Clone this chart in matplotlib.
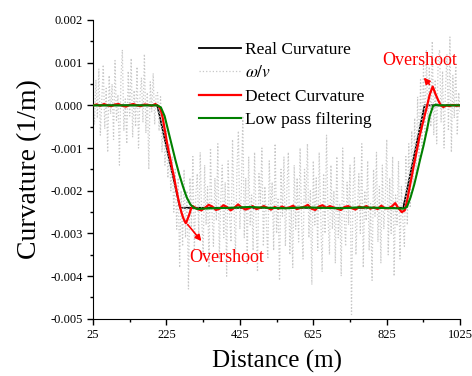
#!/usr/bin/env python

import numpy as np
import matplotlib.pyplot as plt
from matplotlib.ticker import FormatStrFormatter, MultipleLocator

plt.rcParams["font.family"] = ["Liberation Serif", "DejaVu Serif"]
plt.rcParams["mathtext.fontset"] = "stix"
plt.rcParams["axes.unicode_minus"] = False

# Distance grid of the noisy omega/v measurement (m)
distance = np.arange(25, 1026, 4)

# omega/v, in 1e-5 1/m
omega_v = [
	# straight part
	20, -45, 60, -30, 85, -70, 10, 95, -55, 40, -110, 70, -20, 50, -80, 105, -35, 25, -140, 60,
	130, -60, 15, -90, 80, -25, 110, -75, 35, -50, 90, -100, 20, 65, -40, 120, -65, 30, -150, 55,
	-15, 75, -45, 25,
	# entry transition
	30, -60, 20, -110, -20, -140, -60, -170, -90, -200, -120, -250, -150, -290, -170, -380, -200, -330,
	# curve
	-150, -310, -200, -430, -170, -290, -120, -340, -210, -160,
	-300, -110, -260, -350, -140, -280, -190, -380, -100, -250,
	-330, -170, -270, -90, -360, -220, -140, -310, -180, -400,
	-130, -260, -320, -80, -240, -350, -150, -60, -290, -200,
	-25, -310, -170, -370, -120, -280, -210, -340, -110, -260,
	-390, -160, -230, -100, -330, -190, -270, -360, -130, -250,
	-180, -340, -90, -300, -220, -410, -150, -260, -120, -330,
	-200, -110, -350, -240, -380, -140, -290, -170, -320, -100,
	-270, -360, -150, -230, -90, -310, -200, -420, -130, -280,
	-170, -340, -110, -250, -390, -160, -300, -70, -260, -350,
	-140, -290, -200, -370, -120, -310, -230, -400, -100, -260,
	-330, -180, -280, -140, -490, -210, -120, -350, -250, -160,
	-300, -90, -380, -200, -270, -130, -340, -230, -410, -150,
	-260, -110, -320, -190, -370, -140, -290, -220, -80, -350,
	-170, -300, -120, -400, -210, -280, -130, -360, -190, -270,
	# exit transition
	-330, -120, -280, -90, -240, -60, -200, -30, -170, 20, -130, 60, -110, 100, -70, 130, -60,
	# straight part
	90, -50, 150, -70, 60, -90, 110, 130, -40, 80, -100, 40, 120, -60, 160, -110, 70, -30, 100, -70,
	30, -20,
]

# Real curvature (1e-5 1/m)
real_x = [25, 200, 262, 870, 928, 1025]
real_y = [0, 0, -240, -240, 0, 0]

# Detected curvature (1e-5 1/m)
detect_x = [25, 35, 45, 55, 65, 75, 85, 95, 105, 115, 125, 135, 145, 155, 165, 175, 185, 195,
	200, 205, 210, 215, 220, 225, 230, 235, 240, 245, 250, 255, 260, 265, 270, 275, 278, 282, 287, 292, 297,
	300, 310, 320, 330, 340, 350, 360, 370, 380, 390, 400, 410, 420, 430, 440, 450, 460, 470, 480, 490,
	500, 510, 520, 530, 540, 550, 560, 570, 580, 590, 600, 610, 620, 630, 640, 650, 660, 670, 680, 690,
	700, 710, 720, 730, 740, 750, 760, 770, 780, 790, 800, 810, 820, 830, 840, 848, 856, 866, 874,
	880, 890, 900, 907, 915, 925, 934, 942, 950, 957, 965, 972, 979, 988, 995, 1005, 1015, 1025]
detect_y = [0, 2, -1, 3, 0, -2, 2, 3, -1, -3, 1, 3, 0, -2, 2, 1, -1, 3,
	0, -3, -12, -30, -55, -80, -103, -123, -145, -165, -188, -210, -230, -248, -262, -272, -276, -268, -256, -242, -236,
	-238, -243, -246, -240, -233, -237, -245, -242, -234, -238, -246, -240, -232, -239, -244, -241, -236, -243, -240, -236,
	-240, -244, -238, -242, -237, -241, -239, -235, -243, -240, -238, -233, -242, -245, -237, -234, -240, -236, -239, -242,
	-245, -238, -236, -241, -244, -237, -240, -236, -242, -239, -243, -235, -241, -241, -236, -229, -240, -250, -246,
	-225, -180, -135, -105, -70, -35, -4, 25, 44, 28, 12, 0, -4, 0, -2, 1, -1, 0]

# Low pass filtering (1e-5 1/m)
lowpass_x = [25, 200, 210, 220, 230, 240, 250, 260, 270, 280, 290, 300, 310, 320, 350, 400, 450, 500,
	550, 600, 650, 700, 750, 800, 850, 870, 880, 890, 900, 907, 915, 925, 934, 942, 951, 958, 965, 1025]
lowpass_y = [0, 0, -5, -25, -60, -95, -130, -162, -190, -215, -232, -240, -243, -242, -241, -240, -238, -240,
	-241, -239, -240, -241, -239, -240, -241, -242, -238, -215, -185, -160, -130, -95, -59, -25, -2, 2, 0, 0]

scale = 1e-5

fig, ax = plt.subplots(figsize=(4.72, 3.76), dpi=100)
fig.subplots_adjust(left=0.197, right=0.975, bottom=0.152, top=0.947)

# black line under the grey one, like in the original figure
ax.plot(real_x, np.array(real_y) * scale, color="black", lw=1.3, label="Real Curvature", zorder=1)
ax.plot(distance, np.array(omega_v) * scale, color="#c8c8c8", lw=0.9, ls=":", label=r"$\omega/v$", zorder=2)
ax.plot(detect_x, np.array(detect_y) * scale, color="red", lw=1.6, label="Detect Curvature", zorder=3)
ax.plot(lowpass_x, np.array(lowpass_y) * scale, color="green", lw=1.5, label="Low pass filtering", zorder=4)

# Annotations
ax.annotate("Overshoot", xy=(921, 0.0007), xytext=(916, 0.00105), color="red", fontsize=13,
	ha="center", va="center")
ax.annotate("", xy=(921, 0.0007), xytext=(946, 0.00044),
	arrowprops=dict(arrowstyle="-|>", color="red", lw=1.2, mutation_scale=9))
ax.annotate("Overshoot", xy=(390, -0.00356), color="red", fontsize=13, ha="center", va="center")
ax.annotate("", xy=(325, -0.00323), xytext=(278, -0.00274),
	arrowprops=dict(arrowstyle="-|>", color="red", lw=1.2, mutation_scale=9))

# Axes
ax.set_xlim(25, 1025)
ax.set_ylim(-0.005, 0.002)
ax.set_xticks([25, 225, 425, 625, 825, 1025])
ax.set_xticks([125, 325, 525, 725, 925], minor=True)
ax.yaxis.set_major_locator(MultipleLocator(0.001))
ax.yaxis.set_minor_locator(MultipleLocator(0.0005))
ax.yaxis.set_major_formatter(FormatStrFormatter("%.3f"))
ax.tick_params(which="major", direction="out", length=4, width=1, labelsize=9)
ax.tick_params(which="minor", direction="out", length=2.5, width=1)
ax.spines["top"].set_visible(False)
ax.spines["right"].set_visible(False)
ax.set_xlabel("Distance (m)", fontsize=18, labelpad=6)
ax.set_ylabel("Curvature (1/m)", fontsize=20, labelpad=6)

ax.legend(loc="upper left", bbox_to_anchor=(0.29, 0.927), frameon=False, fontsize=12.5,
	handlelength=2.4, handletextpad=0.25, labelspacing=0.42, borderpad=0, borderaxespad=0)

plt.savefig("out.png", dpi=100)
